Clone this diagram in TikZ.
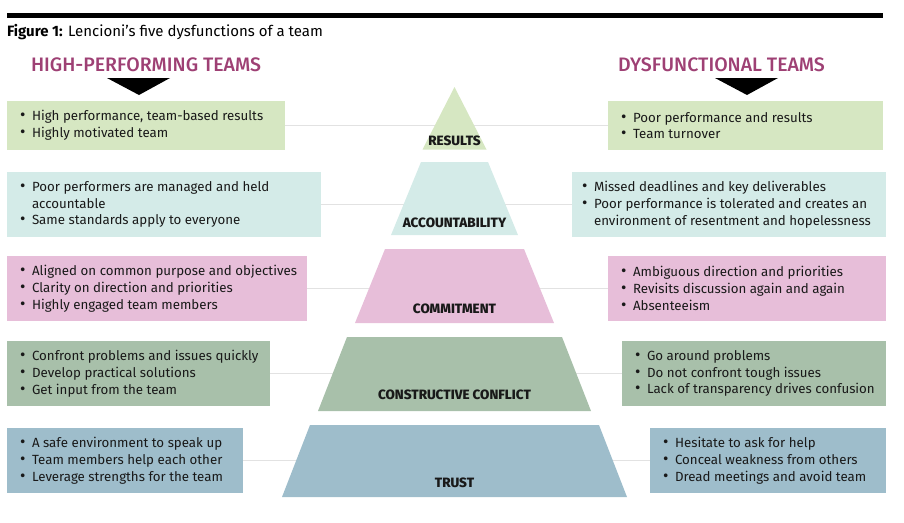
\documentclass[tikz,border=0pt]{standalone}
\usepackage{fontspec}
\usepackage{graphicx}
\setmainfont{Fira Sans}
\newfontfamily\headfont{Fira Sans Medium}
\usetikzlibrary{positioning}
\definecolor{resgreen}{RGB}{214,231,194}
\definecolor{accteal}{RGB}{212,235,232}
\definecolor{compink}{RGB}{231,190,217}
\definecolor{consage}{RGB}{168,192,170}
\definecolor{trublue}{RGB}{158,189,203}
\definecolor{headpurple}{RGB}{158,64,116}
\definecolor{linkgray}{RGB}{226,226,226}
\tikzstyle{every node}=[inner sep=0pt, outer sep=0pt]
\tikzset{teambox/.style={rectangle, anchor=north west, minimum height=65pt},
  teamtext/.style={anchor=west, align=left, text=black!90, font=\fontsize{13.3}{16.8}\selectfont},
  levelname/.style={text=black!90, font=\headfont\bfseries\fontsize{13.5}{15}\selectfont},
  headline/.style={anchor=base, text=headpurple, font=\headfont\fontsize{19.5}{22}\selectfont},
  link/.style={draw=linkgray, line width=0.8pt}}
\newcommand\bul{\makebox[12pt][l]{\scalebox{1.25}{\textbullet}}}
\newcommand\cont{\hspace*{12pt}}

\begin{document}
\begin{tikzpicture}[x=1pt,y=-1pt]
    \useasboundingbox (0,0) rectangle (904,522);
    \draw[line width=4.5pt] (7,15.5) -- (883,15.5);
    \node[anchor=base west, font=\fontsize{15}{17}\selectfont] (title) at (7,36.7) {\textbf{Figure 1:} Lencioni’s five dysfunctions of a team};
    \node[headline] (hphead) at (146,71.7) {HIGH-PERFORMING TEAMS};
    \node[headline] (dfhead) at (721.5,71.7) {DYSFUNCTIONAL TEAMS};
    \fill (107,78) -- (170,78) -- (139,95) -- cycle;
    \fill (715,78) -- (778,78) -- (747,95) -- cycle;

    \node[teambox, fill=resgreen, minimum width=278pt, minimum height=49pt] (hp1) at (7,101) {};
    \node[teambox, fill=accteal, minimum width=314pt] (hp2) at (7,172) {};
    \node[teambox, fill=compink, minimum width=300pt] (hp3) at (7,256) {};
    \node[teambox, fill=consage, minimum width=263pt] (hp4) at (7,341) {};
    \node[teambox, fill=trublue, minimum width=236pt] (hp5) at (7,428) {};
    \node[teambox, fill=resgreen, minimum width=275pt, minimum height=49pt] (df1) at (608,101) {};
    \node[teambox, fill=accteal, minimum width=314pt] (df2) at (572,172) {};
    \node[teambox, fill=compink, minimum width=278pt] (df3) at (608,256) {};
    \node[teambox, fill=consage, minimum width=264pt] (df4) at (622,341) {};
    \node[teambox, fill=trublue, minimum width=236pt] (df5) at (650,428) {};

    \node[teamtext, right=13pt of hp1.west] (hp1txt) {\bul High performance, team-based results\\\bul Highly motivated team};
    \node[teamtext, right=13pt of hp2.west] (hp2txt) {\bul Poor performers are managed and held\\\cont accountable\\\bul Same standards apply to everyone};
    \node[teamtext, right=13pt of hp3.west] (hp3txt) {\bul Aligned on common purpose and objectives\\\bul Clarity on direction and priorities\\\bul Highly engaged team members};
    \node[teamtext, right=13pt of hp4.west] (hp4txt) {\bul Confront problems and issues quickly\\\bul Develop practical solutions\\\bul Get input from the team};
    \node[teamtext, right=13pt of hp5.west] (hp5txt) {\bul A safe environment to speak up\\\bul Team members help each other\\\bul Leverage strengths for the team};
    \node[teamtext, right=13pt of df1.west] (df1txt) {\bul Poor performance and results\\\bul Team turnover};
    \node[teamtext, right=10pt of df2.west] (df2txt) {\bul Missed deadlines and key deliverables\\\bul Poor performance is tolerated and creates an\\\cont environment of resentment and hopelessness};
    \node[teamtext, right=13pt of df3.west] (df3txt) {\bul Ambiguous direction and priorities\\\bul Revisits discussion again and again\\\bul Absenteeism};
    \node[teamtext, right=13pt of df4.west] (df4txt) {\bul Go around problems\\\bul Do not confront tough issues\\\bul Lack of transparency drives confusion};
    \node[teamtext, right=13pt of df5.west] (df5txt) {\bul Hesitate to ask for help\\\bul Conceal weakness from others\\\bul Dread meetings and avoid team};

    \draw[link] (hp1.east) -- (df1.west);
    \draw[link] (hp2.east) -- (df2.west);
    \draw[link] (hp3.east) -- (df3.west);
    \draw[link] (hp4.east) -- (df4.west);
    \draw[link] (hp5.east) -- (df5.west);

    \fill[resgreen] (454.5,87) -- (486.5,149.5) -- (422.5,149.5) -- cycle;
    \fill[accteal] (421,162) -- (488,162) -- (518,235) -- (391,235) -- cycle;
    \fill[compink] (385,249) -- (524,249) -- (554,323) -- (355,323) -- cycle;
    \fill[consage] (347,337) -- (562,337) -- (591,411) -- (318,411) -- cycle;
    \fill[trublue] (310,425) -- (599,425) -- (627,497) -- (282,497) -- cycle;
    \node[levelname] (results) at (454.5,141) {RESULTS};
    \node[levelname] (account) at (454.5,223) {ACCOUNTABILITY};
    \node[levelname] (commit) at (454.5,309) {COMMITMENT};
    \node[levelname] (conflict) at (454.5,395) {CONSTRUCTIVE CONFLICT};
    \node[levelname] (trust) at (454.5,483) {TRUST};
\end{tikzpicture}
\end{document}
